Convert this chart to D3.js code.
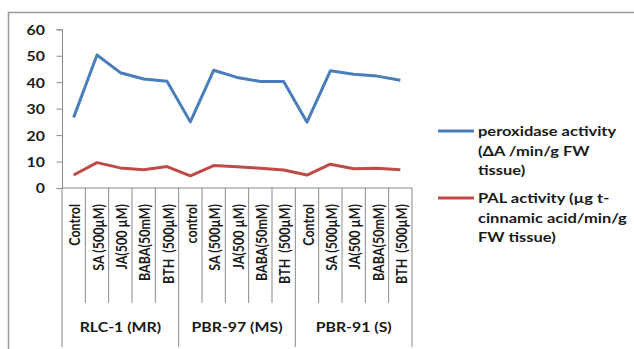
<!DOCTYPE html>
<html>
<head>
<meta charset="utf-8">
<script src="https://cdn.jsdelivr.net/npm/d3@7"></script>
<style>
  html, body { margin: 0; padding: 0; background: #fff; }
  svg { display: block; }
  text { font-family: Lato, "Open Sans", sans-serif; font-weight: bold; fill: #1a1a1a; }
</style>
</head>
<body>
<svg id="chart" width="634" height="349"></svg>
<script>
// Treatments within each cultivar
const groups = ["RLC-1 (MR)", "PBR-97 (MS)", "PBR-91 (S)"];
const treatments = [
  ["Control", "SA (500µM)", "JA(500 µM)", "BABA(50mM)", "BTH  (500µM)"],
  ["control", "SA (500µM)", "JA(500 µM)", "BABA(50mM)", "BTH  (500µM)"],
  ["Control", "SA (500µM)", "JA(500 µM)", "BABA(50mM)", "BTH  (500µM)"]
];
// Enzyme activity per treatment, in the same order
const peroxidase = [26.7, 50.3, 43.6, 41.2, 40.4, 25.0, 44.5, 41.8, 40.3, 40.3, 24.9, 44.3, 43.0, 42.3, 40.7];
const pal        = [4.9, 9.6, 7.6, 6.9, 8.1, 4.6, 8.5, 8.0, 7.5, 6.8, 4.9, 9.0, 7.3, 7.5, 6.9];
const yTicks = [0, 10, 20, 30, 40, 50, 60];
const seriesNames = [
  ["peroxidase activity", "(ΔA /min/g FW", "tissue)"],
  ["PAL activity (µg t-", "cinnamic acid/min/g", "FW tissue)"]
];
const colors = ["#4a7ebb", "#be4b48"];

const svg = d3.select("#chart");
const axisColor = "#8a8a8a";
const stretch = 1.22; // wide glyph proportions

// outer frame (top and left edges)
svg.append("path")
  .attr("d", "M8.5,349 V12.5 H634")
  .attr("fill", "none").attr("stroke", "#9a9a9a").attr("stroke-width", 1.5);

const plotLeft = 62, plotRight = 412, plotTop = 29.3, plotBottom = 188;
const keys = d3.range(peroxidase.length);
const x = d3.scaleBand().domain(keys).range([plotLeft, plotRight]);
const y = d3.scaleLinear().domain([0, 60]).range([plotBottom, plotTop]);

// y axis
const yAxis = svg.append("g").attr("transform", `translate(${plotLeft},0)`)
  .call(d3.axisLeft(y).tickValues(yTicks).tickSize(5.5).tickPadding(0).tickFormat(d3.format("d")));
yAxis.select(".domain").attr("stroke", axisColor);
yAxis.selectAll(".tick line").attr("stroke", axisColor);
yAxis.selectAll(".tick text").remove();
yAxis.selectAll(".tick").append("text")
  .attr("text-anchor", "end").attr("dominant-baseline", "central")
  .attr("transform", `translate(-17,0) scale(${stretch},1)`)
  .style("font-size", "13px").attr("fill", "#1a1a1a")
  .text(d => d);

// x axis line
svg.append("line").attr("x1", plotLeft).attr("x2", plotRight).attr("y1", plotBottom).attr("y2", plotBottom)
  .attr("stroke", axisColor);

// category dividers
const bounds = d3.range(peroxidase.length + 1).map(i => plotLeft + i * x.bandwidth());
svg.append("g").selectAll("line").data(bounds).join("line")
  .attr("x1", d => d).attr("x2", d => d)
  .attr("y1", plotBottom)
  .attr("y2", (d, i) => i % 5 === 0 ? 347 : 303)
  .attr("stroke", axisColor);

// category labels
const flatLabels = treatments.flat();
svg.append("g").selectAll("text").data(flatLabels).join("text")
  .attr("text-anchor", "end").attr("dominant-baseline", "central")
  .attr("transform", (d, i) => `translate(${x(i) + x.bandwidth() / 2 + 0.5},204) scale(${stretch},1) rotate(-90)`)
  .style("font-size", "12.5px")
  .attr("xml:space", "preserve")
  .text(d => d);

// group labels
svg.append("g").selectAll("text").data(groups).join("text")
  .attr("text-anchor", "middle").attr("dominant-baseline", "central")
  .attr("transform", (d, i) => `translate(${(bounds[i * 5] + bounds[i * 5 + 5]) / 2},327) scale(${stretch},1)`)
  .style("font-size", "13px")
  .text(d => d);

// series lines
const line = d3.line().x((d, i) => x(i) + x.bandwidth() / 2).y(d => y(d));
[peroxidase, pal].forEach((s, k) => {
  svg.append("path").datum(s)
    .attr("d", line)
    .attr("fill", "none").attr("stroke", colors[k]).attr("stroke-width", 3)
    .attr("stroke-linejoin", "round");
});

// legend
const legendY = [131, 198];
seriesNames.forEach((lines, k) => {
  const g = svg.append("g");
  g.append("line").attr("x1", 438).attr("x2", 474)
    .attr("y1", legendY[k]).attr("y2", legendY[k])
    .attr("stroke", colors[k]).attr("stroke-width", 3);
  lines.forEach((t, j) => {
    g.append("text")
      .attr("dominant-baseline", "central")
      .attr("transform", `translate(478,${legendY[k] + j * 19.5}) scale(${stretch},1)`)
      .style("font-size", "13.5px")
      .text(t);
  });
});
</script>
</body>
</html>
